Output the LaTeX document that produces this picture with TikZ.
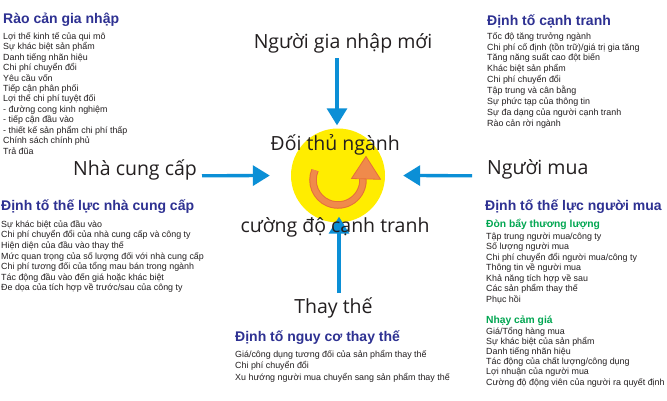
\documentclass[tikz,border=0pt]{standalone}
\usepackage{fontspec}
\setmainfont{Liberation Sans}
\newfontfamily\bigsans{Open Sans}
\usetikzlibrary{arrows.meta}
\definecolor{hblue}{HTML}{2E3192}
\definecolor{hgreen}{HTML}{00A651}
\definecolor{abl}{HTML}{0B8FD6}
\definecolor{txt}{HTML}{231F20}
\definecolor{ylw}{HTML}{FFED00}
\definecolor{org}{HTML}{F08A4B}
\definecolor{orgd}{HTML}{E4703A}
\begin{document}
\begin{tikzpicture}[x=1pt,y=-1pt,
  head/.style={anchor=base west,inner sep=0,text=hblue,font=\fontsize{14}{16}\selectfont\bfseries},
  subhead/.style={anchor=base west,inner sep=0,text=hgreen,font=\fontsize{10.3}{12}\selectfont\bfseries},
  item/.style={anchor=base west,inner sep=0,text=txt,font=\fontsize{8.9}{10}\selectfont},
  big/.style={anchor=base,inner sep=0,text=txt,font=\bigsans\fontsize{19.5}{22}\selectfont},
  barrow/.style={draw=abl,line width=3.3pt,-{Triangle[length=17pt,width=20pt]}},
]
\useasboundingbox[fill=white] (0,0) rectangle (667,400);

% centre circle and rotating arrow
\node[circle,fill=ylw,minimum size=94pt,inner sep=0] (circ) at (338,175.5) {};
\draw[orgd,line width=7.5pt] (338,180) ++(203:25) arc[start angle=203,end angle=-2,radius=25];
\draw[org,line width=5.5pt] (338,180) ++(203:25) arc[start angle=203,end angle=-2,radius=25];
\filldraw[fill=org,draw=orgd,line width=0.8pt] (351.5,178.5) -- (380.5,179.3) -- (366,156.5) -- cycle;

% blue arrows
\coordinate (nT) at (337,58);
\coordinate (nB) at (339,293);
\coordinate (nL) at (202,175.7);
\coordinate (nR) at (472,175.7);
\draw[barrow,shorten >=3pt] (nT) -- (nT |- circ.north);
\draw[barrow,shorten >=-6pt] (nB) -- (nB |- circ.south);
\draw[barrow,shorten >=21pt] (nL) -- (circ.west);
\draw[barrow,shorten >=18pt] (nR) -- (circ.east);

% big labels
\node[big] (new) at (343,48) {Người gia nhập mới};
\node[big] (riv1) at (335.3,150) {Đối thủ ngành};
\node[big] (riv2) at (335,232.7) {cường độ cạnh tranh};
\node[big] (subst) at (333.5,313) {Thay thế};
\node[big,anchor=base west] (supl) at (73,175.7) {Nhà cung cấp};
\node[big,anchor=base west] (buy) at (487,174.5) {Người mua};

% top left
\node[head] (h1) at (3,23.3) {Rào cản gia nhập};
\foreach \t [count=\i] in {Lợi thế kinh tế của qui mô, Sự khác biệt sản phẩm, Danh tiếng nhãn hiệu, Chi phí chuyển đổi, Yêu cầu vốn, Tiếp cận phân phối, Lợi thế chi phí tuyệt đối, - đường cong kinh nghiệm, - tiếp cận đầu vào, - thiết kế sản phẩm chi phí thấp, Chính sách chính phủ, Trả đũa}
  \node[item] (a\i) at (3,{39.3+(\i-1)*10.43}) {\t};

% top right
\node[head] (h2) at (487,25) {Định tố cạnh tranh};
\foreach \t [count=\i] in {Tốc độ tăng trưởng ngành, Chi phí cố định (tồn trữ)/giá trị gia tăng, Tăng năng suất cao đột biến, Khác biệt sản phẩm, Chi phí chuyển đổi, Tập trung và cân bằng, Sự phức tạp của thông tin, Sự đa dạng của người cạnh tranh, Rào cản rời ngành}
  \node[item] (b\i) at (487,{39.3+(\i-1)*10.84}) {\t};

% left middle
\node[head] (h3) at (1,210.7) {Định tố thế lực nhà cung cấp};
\foreach \t [count=\i] in {Sự khác biệt của đầu vào, Chi phí chuyển đổi của nhà cung cấp và công ty, Hiện diện của đầu vào thay thế, Mức quan trọng của số lượng đối với nhà cung cấp, Chi phí tương đối của tổng mau bán trong ngành, Tác động đầu vào đến giá hoặc khác biệt, Đe dọa của tích hợp về trước/sau của công ty}
  \node[item] (c\i) at (1,{227.3+(\i-1)*10.6}) {\t};

% right
\node[head] (h4) at (485,210.7) {Định tố thế lực người mua};
\node[subhead] (s1) at (486,227.7) {Đòn bẩy thương lượng};
\foreach \t [count=\i] in {Tập trung người mua/công ty, Số lượng người mua, Chi phí chuyển đổi người mua/công ty, Thông tin về người mua, Khả năng tích hợp về sau, Các sản phẩm thay thế, Phục hồi}
  \node[item] (d\i) at (486,{239+(\i-1)*10.55}) {\t};
\node[subhead] (s2) at (486,323.3) {Nhạy cảm giá};
\foreach \t [count=\i] in {Giá/Tổng hàng mua, Sự khác biệt của sản phẩm, Danh tiếng nhãn hiệu, Tác động của chất lượng/công dụng, Lợi nhuận của người mua, Cường độ động viên của người ra quyết định}
  \node[item] (e\i) at (486,{334+(\i-1)*10.2}) {\t};

% bottom
\node[head] (h5) at (235,341.7) {Định tố nguy cơ thay thế};
\foreach \t [count=\i] in {Giá/công dụng tương đối của sản phẩm thay thế, Chi phí chuyển đổi, Xu hướng người mua chuyển sang sản phẩm thay thế}
  \node[item] (f\i) at (235,{357.5+(\i-1)*11.3}) {\t};
\end{tikzpicture}
\end{document}
